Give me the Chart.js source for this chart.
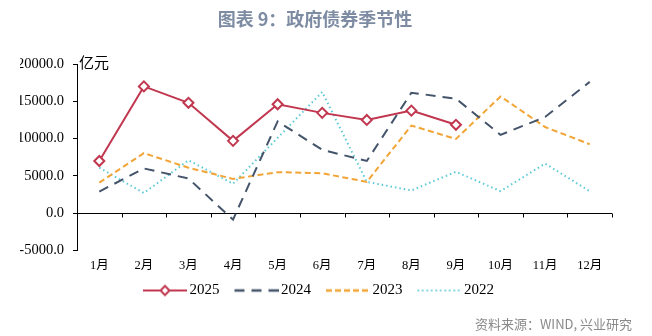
<!DOCTYPE html>
<html>
<head>
<meta charset="utf-8">
<script src="https://cdn.jsdelivr.net/npm/chart.js@4.4.1/dist/chart.umd.min.js"></script>
<style>
  html, body { margin: 0; padding: 0; background: #fff; }
  #wrap { position: relative; width: 652px; height: 336px; }
  #bond_chart { position: absolute; left: 0; top: 0; }
  #title {
    position: absolute; left: 0; top: 5px; width: 630px; text-align: center;
    font: bold 18px "Noto Sans CJK SC", sans-serif; color: #7d8ca3;
  }
  #source {
    position: absolute; right: 20px; top: 314px;
    font: 13px "Noto Sans CJK SC", sans-serif; color: #8a8a8a;
  }
</style>
</head>
<body>
<div id="wrap">
  <canvas id="bond_chart" width="652" height="336"></canvas>
  <div id="title">图表 9：政府债券季节性</div>
  <div id="source">资料来源：WIND, 兴业研究</div>
</div>
<script>
// 政府债券月度发行（亿元）
const months = ['1月', '2月', '3月', '4月', '5月', '6月', '7月', '8月', '9月', '10月', '11月', '12月'];
const years = ['2025', '2024', '2023', '2022'];
const issue2025 = [7000, 17000, 14800, 9700, 14600, 13450, 12500, 13750, 11850];
const issue2024 = [2900, 6000, 4650, -850, 12300, 8500, 7000, 16150, 15350, 10500, 12900, 17600];
const issue2023 = [4100, 8050, 6100, 4600, 5500, 5350, 4200, 11750, 9950, 15650, 11550, 9250];
const issue2022 = [6100, 2700, 7100, 3950, 10100, 16250, 4200, 3050, 5550, 2950, 6650, 2950];
const yTicks = [-5000, 0, 5000, 10000, 15000, 20000];

const red = '#c1374f';
const navy = '#44546a';
const orange = '#f2a537';
const cyan = '#5ccad6';

Chart.defaults.font.family = '"Liberation Serif", "Noto Sans CJK SC", serif';
Chart.defaults.color = '#000';

// little line samples for the legend
function legendSample(color, dash, width, marker) {
    const c = document.createElement('canvas');
    c.width = 54;
    c.height = 14;
    const g = c.getContext('2d');
    g.strokeStyle = color;
    g.lineWidth = width;
    g.setLineDash(dash);
    g.beginPath();
    g.moveTo(10, 7);
    g.lineTo(54, 7);
    g.stroke();
    if (marker) {
        g.setLineDash([]);
        g.fillStyle = '#fff';
        g.lineWidth = 2;
        g.beginPath();
        g.moveTo(32, 2.5);
        g.lineTo(36.5, 7);
        g.lineTo(32, 11.5);
        g.lineTo(27.5, 7);
        g.closePath();
        g.fill();
        g.stroke();
    }
    return c;
}

const samples = [
    legendSample(red, [], 2, true),
    legendSample(navy, [10, 7], 2.5, false),
    legendSample(orange, [6, 3], 2.5, false),
    legendSample(cyan, [1.5, 3], 2, false)
];

// zero line with category ticks, plus the unit label
const zeroAxis = {
    id: 'zeroAxis',
    beforeDatasetsDraw(chart) {
        const {ctx, chartArea, scales: {x, y}} = chart;
        const y0 = Math.round(y.getPixelForValue(0)) + 0.5;
        const half = (x.getPixelForValue(1) - x.getPixelForValue(0)) / 2;
        ctx.save();
        ctx.strokeStyle = '#000';
        ctx.lineWidth = 1;
        ctx.beginPath();
        ctx.moveTo(chartArea.left, y0);
        ctx.lineTo(chartArea.right, y0);
        for (let i = 0; i < months.length; i++) {
            const px = Math.round(x.getPixelForValue(i) + half) + 0.5;
            ctx.moveTo(px, y0);
            ctx.lineTo(px, y0 + 4);
        }
        ctx.stroke();
        ctx.fillStyle = '#000';
        ctx.font = '15px "Noto Sans CJK SC"';
        ctx.textBaseline = 'middle';
        ctx.fillText('亿元', chartArea.left + 2, chartArea.top - 2);
        ctx.restore();
    }
};

const ctx = document.getElementById('bond_chart').getContext('2d');
const bond_chart = new Chart(ctx, {
    type: 'line',
    data: {
        labels: months,
        datasets: [
            {
                label: years[0],
                data: issue2025,
                borderColor: red,
                borderWidth: 2,
                pointStyle: 'rectRot',
                pointRadius: 5,
                pointBorderWidth: 2,
                pointBackgroundColor: '#fff',
                pointBorderColor: red,
                tension: 0
            },
            {
                label: years[1],
                data: issue2024,
                borderColor: navy,
                borderWidth: 2,
                borderDash: [10, 7],
                pointRadius: 0,
                tension: 0
            },
            {
                label: years[2],
                data: issue2023,
                borderColor: orange,
                borderWidth: 2,
                borderDash: [6, 3.5],
                pointRadius: 0,
                tension: 0
            },
            {
                label: years[3],
                data: issue2022,
                borderColor: cyan,
                borderWidth: 2,
                borderDash: [1.5, 3],
                pointRadius: 0,
                tension: 0
            }
        ]
    },
    options: {
        responsive: false,
        animation: false,
        devicePixelRatio: 1,
        layout: {
            padding: {top: 64, right: 40, left: 20, bottom: 28}
        },
        plugins: {
            legend: {
                position: 'bottom',
                labels: {
                    usePointStyle: true,
                    pointStyleWidth: 44,
                    padding: 10,
                    font: {size: 15},
                    generateLabels: (chart) => chart.data.datasets.map((ds, i) => ({
                        text: ds.label,
                        pointStyle: samples[i],
                        fillStyle: ds.borderColor,
                        strokeStyle: ds.borderColor,
                        lineWidth: 0,
                        hidden: false,
                        datasetIndex: i
                    }))
                }
            },
            tooltip: {
                enabled: false
            }
        },
        scales: {
            x: {
                offset: true,
                afterFit: (scale) => {
                    scale.height -= 8.5;
                },
                grid: {
                    display: false,
                    drawTicks: false
                },
                border: {
                    display: false
                },
                ticks: {
                    padding: 8,
                    maxRotation: 0,
                    font: {size: 12.5}
                }
            },
            y: {
                min: -5000,
                max: 20000,
                afterBuildTicks: (scale) => {
                    scale.ticks = yTicks.map(v => ({value: v}));
                },
                afterFit: (scale) => {
                    scale.width = 57;
                },
                grid: {
                    drawOnChartArea: false,
                    tickLength: 4,
                    color: '#000'
                },
                border: {
                    color: '#000'
                },
                ticks: {
                    padding: 9,
                    font: {size: 14.5},
                    callback: (value) => value.toFixed(1)
                }
            }
        }
    },
    plugins: [zeroAxis]
});
</script>
</body>
</html>
